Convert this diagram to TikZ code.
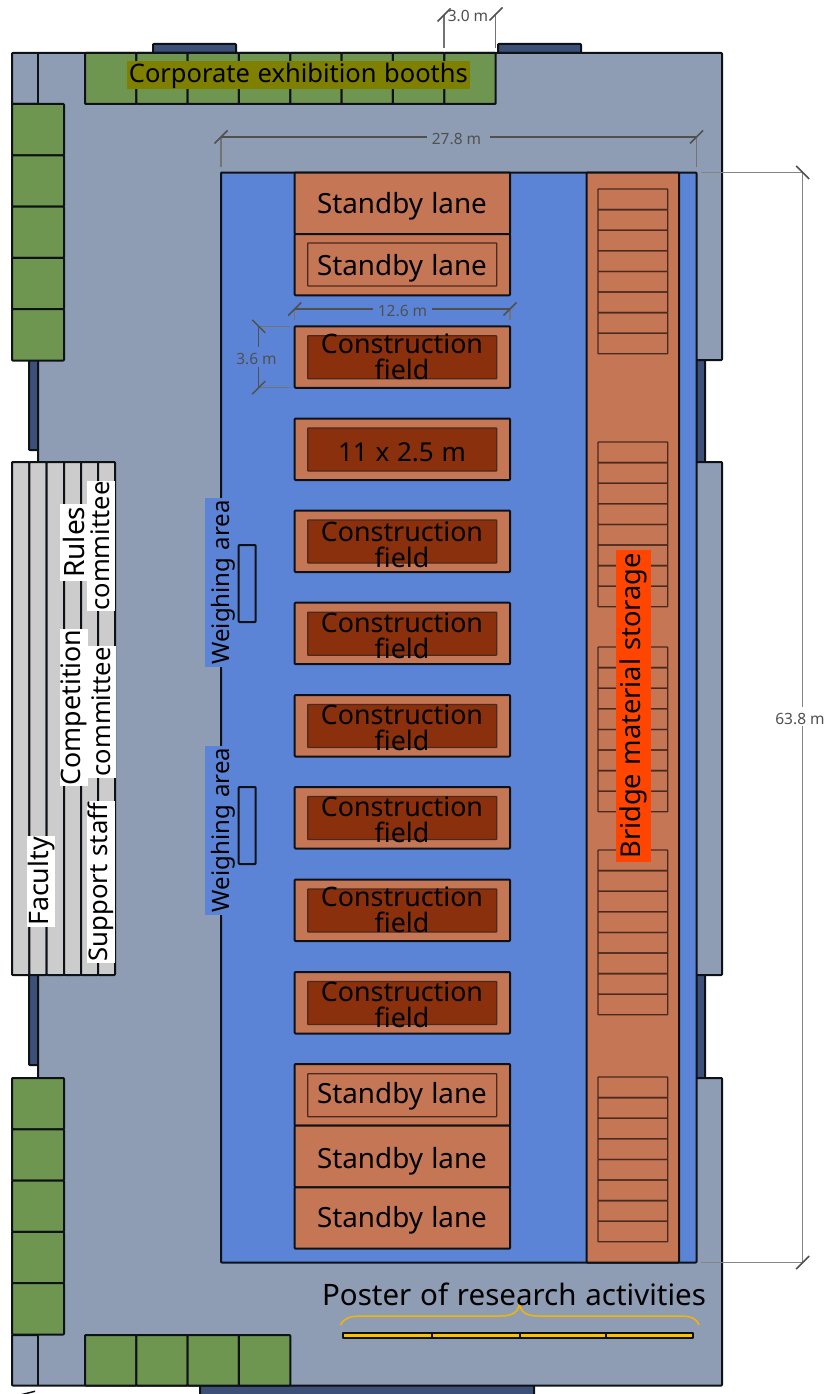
\documentclass[tikz,border=0pt]{standalone}
\usepackage{fontspec}
\setmainfont{Noto Sans}
\newfontfamily\lab[WordSpace=1.5]{Noto Sans}
\newfontfamily\labtight[WordSpace=1.15]{Noto Sans}
\definecolor{floorc}{HTML}{8E9DB4}
\definecolor{fieldc}{HTML}{5B84D7}
\definecolor{boothc}{HTML}{6F9650}
\definecolor{clayc}{HTML}{C47655}
\definecolor{brownc}{HTML}{8A300C}
\definecolor{doorc}{HTML}{3D5078}
\definecolor{panelc}{HTML}{CCCCCC}
\definecolor{linec}{HTML}{0E1217}
\definecolor{dimc}{HTML}{505050}
\definecolor{olivec}{HTML}{7F7F00}
\definecolor{barc}{HTML}{FFC000}
\definecolor{rackc}{HTML}{4A2A1E}
\definecolor{hotc}{HTML}{FF4500}
\tikzset{
  wall/.style={draw=linec,line width=2pt,line join=round,rounded corners=0.8pt},
  thinwall/.style={draw=linec,line width=1.2pt},
  rack/.style={draw=rackc,line width=1.3pt,rounded corners=0.6pt},
  dimline/.style={draw=dimc,line width=1.1pt},
  extline/.style={draw=dimc!80!white,line width=1.1pt},
  dimlabel/.style={text=dimc,font=\fontsize{15.5}{17}\selectfont,inner sep=0pt},
  biglabel/.style={text=black,font=\lab\fontsize{26.8}{25}\selectfont,inner sep=0pt,align=center},
  sidelabel/.style={biglabel,rotate=90,fill=white,minimum height=28pt},
  weighlabel/.style={biglabel,rotate=90,font=\lab\fontsize{24}{25}\selectfont,fill=fieldc,text height=24pt,text depth=3pt,minimum width=169pt},
}
\newcommand{\slashtick}[2]{\draw[dimline,line width=1.5pt] (#1-6.5,#2+6.5) -- (#1+6.5,#2-6.5);}
\newcommand{\backtick}[2]{\draw[dimline,line width=1.5pt] (#1-6.5,#2-6.5) -- (#1+6.5,#2+6.5);}
\begin{document}
\begin{tikzpicture}[x=1pt,y=-1pt]
\useasboundingbox (0,0) rectangle (828,1394);
\fill[white] (0,0) rectangle (828,1394);
% doors
\foreach \a/\b/\c/\d in {153/44/236/53,498/44/581/53,200/1385/534/1400,29/355/38/450,29/970/38/1065,696/355/705/467,696/970/705/1083}
  \draw[wall,fill=doorc] (\a,\b) rectangle (\c,\d);
% floor
\draw[wall,fill=floorc] (12,53) -- (722,53) -- (722,360) -- (696,360) -- (696,462) -- (722,462) -- (722,975) -- (696,975) -- (696,1078) -- (722,1078) -- (722,1385.5) -- (12,1385.5) -- (12,1335) -- (38,1335) -- (38,1078) -- (38,975) -- (38,462) -- (38,360) -- (38,104) -- (12,104) -- cycle;
\draw[thinwall] (38,53) -- (38,104) (38,1335) -- (38,1385.5);
% green booths
\foreach \i in {0,...,7} \draw[wall,fill=boothc] ({85+51.33*\i},53) rectangle ({85+51.33*(\i+1)},104);
\foreach \i in {0,...,3} \draw[wall,fill=boothc] ({85+51.33*\i},1335) rectangle ({85+51.33*(\i+1)},1385.5);
\foreach \i in {0,...,4} {
  \draw[wall,fill=boothc] (12,{104+51.3*\i}) rectangle (64,{104+51.3*(\i+1)});
  \draw[wall,fill=boothc] (12,{1078+51.3*\i}) rectangle (64,{1078+51.3*(\i+1)});
}
% staff panel
\foreach \a/\b in {12/29.3,29.3/46.7,46.7/64,64/81,81/98,98/115}
  \draw[wall,fill=panelc] (\a,462) rectangle (\b,975);
% competition area
\draw[wall,fill=fieldc] (221,172.5) rectangle (696.5,1262.5);
\draw[wall,fill=clayc] (586.7,172.5) rectangle (679,1262.5);
% weighing tables
\draw[wall,fill=fieldc] (238.7,545) rectangle (255.7,622);
\draw[wall,fill=fieldc] (238.7,787) rectangle (255.7,864);
% standby and construction boxes
\foreach \a/\b in {172.5/234,234/295.3,1064/1125.7,1125.7/1187.3,1187.3/1248.7}
  \draw[wall,fill=clayc] (294.7,\a) rectangle (510,\b);
\draw[rack,draw=rackc] (307.7,243) rectangle (496.7,286);
\draw[rack,draw=rackc] (307.7,1073.7) rectangle (496.7,1116.7);
\foreach \t in {326.3,418.5,510.5,602.7,695,787,879.5,972} {
  \draw[wall,fill=clayc] (294.7,\t) rectangle (510,\t+61.5);
  \draw[rack,fill=brownc] (307.7,\t+9.5) rectangle (496.7,\t+52.5);
}
% material racks
\foreach \t in {189,442,647,850,1077}
  \foreach \i in {0,...,7}
    \draw[rack] (598,{\t+20.6*\i}) rectangle (667.7,{\t+20.6*(\i+1)});
% yellow poster bar
\draw[line width=2pt,draw=linec,fill=barc,line join=round] (343,1332.7) rectangle (693,1338);
\draw[thinwall] (432,1332.7) -- (432,1338) (520,1332.7) -- (520,1338) (606,1332.7) -- (606,1338);
\draw[draw=barc!95!black,line width=1.5pt] (340.5,1325) .. controls (344,1318) and (350,1316) .. (362,1316) -- (500,1316) .. controls (513,1316) and (519,1312) .. (519.5,1302) .. controls (520,1312) and (526,1316) .. (538,1316) -- (680,1316) .. controls (692,1316) and (697,1319) .. (699,1325);
% dimensions
\coordinate (d27a) at (221,137); \coordinate (d27b) at (696.5,137);
\draw[extline] (d27a) -- (221,167) (d27b) -- (696.5,167);
\draw[dimline] (d27a) -- (427,137) (490,137) -- (d27b);
\slashtick{221}{137} \slashtick{696.5}{137}
\node[dimlabel] (l27) at (456.5,138.5) {27.8 m};
\coordinate (d3a) at (444,15); \coordinate (d3b) at (495.7,14);
\draw[extline] (d3a) -- (444,48) (d3b) -- (495.7,48);
\slashtick{444}{15} \slashtick{496}{14}
\node[dimlabel] (l3) at (468,16) {3.0 m};
\coordinate (d12a) at (294.7,309); \coordinate (d12b) at (510,309);
\draw[extline] (d12a) -- (294.7,320) (d12b) -- (510,320);
\draw[dimline] (d12a) -- (373,309) (432,309) -- (d12b);
\slashtick{294.7}{309} \slashtick{510}{309}
\node[dimlabel] (l12) at (402.5,311) {12.6 m};
\coordinate (d36a) at (258.7,326.3); \coordinate (d36b) at (258.7,387.7);
\draw[extline] (d36a) -- (290,326.3) (d36b) -- (290,387.7);
\draw[dimline] (d36a) -- (258.7,347) (258.7,367) -- (d36b);
\backtick{258.7}{326.3} \slashtick{258.7}{387.7}
\node[dimlabel] (l36) at (256.5,359) {3.6 m};
\coordinate (d63a) at (802.7,172.5); \coordinate (d63b) at (802.7,1262.5);
\draw[extline,draw=dimc!70!white,line width=1.3pt] (701,172.5) -- (d63a) (701,1262.5) -- (d63b);
\draw[extline,draw=dimc!70!white,line width=1.3pt] (d63a) -- (802.7,707) (802.7,726) -- (d63b);
\backtick{802.7}{172.5} \slashtick{802.7}{1262.5}
\node[dimlabel] (l63) at (800,718.5) {63.8 m};
% bottom-left fragment
\fill[linec] (21,1394) -- (35,1390.5) -- (35,1392) -- (27,1394) -- cycle;
% labels
\node[biglabel,font=\lab\fontsize{25.5}{25}\selectfont,fill=olivec,minimum width=343pt,minimum height=28.6pt,text depth=6pt,text height=22pt] (corp) at (298.4,75) {Corporate exhibition booths};
\foreach \n/\y in {s1/206,s2/268,s3/1096,s4/1161,s5/1220}
  \node[biglabel,font=\lab\fontsize{27.8}{25}\selectfont] (\n) at (402,\y) {Standby lane};
\foreach \n/\y in {c1/344,c3/532,c4/623,c5/715,c6/807,c7/897,c8/992} {
  \node[biglabel] (\n a) at (402,\y) {Construction};
  \node[biglabel] (\n b) at (402,\y+25) {field};
}
\node[biglabel,font=\labtight\fontsize{26}{25}\selectfont] (c2) at (402,452) {11 x 2.5 m};
\node[biglabel,font=\lab\fontsize{27.3}{25}\selectfont,rotate=90,fill=hotc,minimum width=312pt,minimum height=34.6pt] (bridge) at (633.3,705.8) {Bridge material storage};
\node[biglabel,font=\labtight\fontsize{29.5}{25}\selectfont] (poster) at (514,1294) {Poster of research activities};
\node[weighlabel] (w1) at (218.5,582.5) {Weighing area};
\node[weighlabel] (w2) at (218.5,830) {Weighing area};
\node[sidelabel,minimum width=77.5pt,font=\lab\fontsize{28}{25}\selectfont] (rules) at (74,542.3) {Rules};
\node[sidelabel,minimum width=130pt,font=\lab\fontsize{25.5}{25}\selectfont] (com1) at (100.5,546) {committee};
\node[sidelabel,minimum width=157pt] (comp) at (74,707.5) {Competition};
\node[sidelabel,minimum width=131.5pt,font=\lab\fontsize{25.5}{25}\selectfont] (com2) at (101.5,711.8) {committee};
\node[sidelabel,minimum width=162pt,font=\lab\fontsize{25.7}{25}\selectfont] (sup) at (101,882) {Support staff};
\node[sidelabel,minimum width=91pt] (fac) at (41.3,881.5) {Faculty};
\end{tikzpicture}
\end{document}
